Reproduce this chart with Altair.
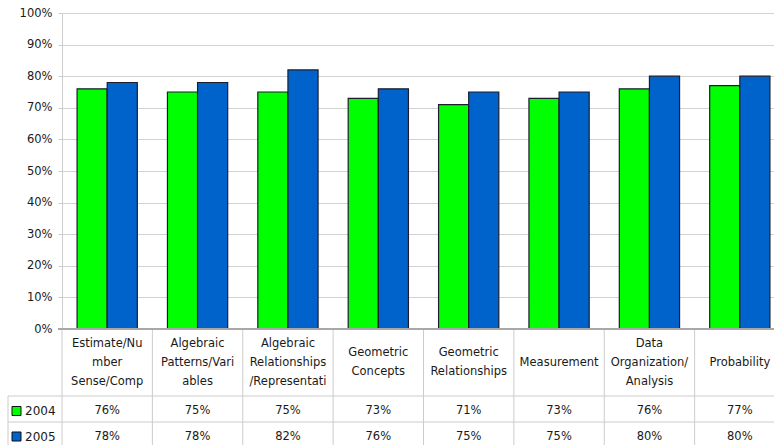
import altair as alt
import pandas as pd

# Strand names, wrapped the way they appear in the table header
categories = [
    "Estimate/Nu\nmber\nSense/Comp",
    "Algebraic\nPatterns/Vari\nables",
    "Algebraic\nRelationships\n/Representati",
    "Geometric\nConcepts",
    "Geometric\nRelationships",
    "Measurement",
    "Data\nOrganization/\nAnalysis",
    "Probability",
]
years = ["2004", "2005"]
score_2004 = [76, 75, 75, 73, 71, 73, 76, 77]
score_2005 = [78, 78, 82, 76, 75, 75, 80, 80]
year_colors = ["#00ff00", "#0063cc"]

FONT = "DejaVu Sans"
FONT_SIZE = 11.5
TEXT_COLOR = "#1a1a1a"
LINE_COLOR = "#cccccc"
LINE_HEIGHT = 19

# Table geometry below the plot (pixels from the 0% line)
HEADER_BOTTOM = 67
ROW1_BOTTOM = 93
TABLE_BOTTOM = 116
ROW_CENTERS = {"2004": 82, "2005": 107.5}

scores = {"2004": score_2004, "2005": score_2005}
bars_df = pd.DataFrame(
    [
        {"category": c, "year": y, "score": v / 100, "label": f"{v}%",
         "ty": ROW_CENTERS[y]}
        for y in years
        for c, v in zip(categories, scores[y])
    ]
)
cat_df = pd.DataFrame({"category": categories})
cat_df["top"] = 0
cat_df["bottom"] = TABLE_BOTTOM
# first line of a wrapped header sits so that the whole block is centred in the cell
cat_df["first_line"] = [
    HEADER_BOTTOM / 2 - (c.count("\n")) * LINE_HEIGHT / 2 for c in categories
]
year_df = pd.DataFrame({"year": years, "ty": [ROW_CENTERS[y] for y in years]})

x_scale = alt.Scale(domain=categories, range=[0, 723], paddingInner=0, paddingOuter=0)
table_y = alt.Scale(domain=[0, TABLE_BOTTOM], range=[316, 316 + TABLE_BOTTOM], nice=False, zero=False)
color_scale = alt.Scale(domain=years, range=year_colors)

bars = alt.Chart(bars_df).mark_bar(stroke="#1c1c2c", strokeWidth=1.2).encode(
    x=alt.X("category:N", scale=x_scale, axis=None),
    xOffset=alt.XOffset("year:N", scale=alt.Scale(domain=years, paddingInner=0, paddingOuter=0.5)),
    y=alt.Y(
        "score:Q",
        scale=alt.Scale(domain=[0, 1], nice=False),
        axis=alt.Axis(
            values=[i / 10 for i in range(11)],
            format=".0%",
            title=None,
            labelFont=FONT,
            labelFontSize=FONT_SIZE,
            labelColor=TEXT_COLOR,
            labelPadding=6,
            tickSize=4,
            tickColor=LINE_COLOR,
            gridColor="#d2d2d2",
            domainColor=LINE_COLOR,
        ),
    ),
    color=alt.Color("year:N", scale=color_scale, legend=None),
)

# Horizontal table lines
h_lines_df = pd.DataFrame({"ty": [HEADER_BOTTOM, ROW1_BOTTOM]})
h_lines = alt.Chart(h_lines_df).mark_rule(color=LINE_COLOR, strokeWidth=1).encode(
    x=alt.value(-54),
    x2=alt.value(712),
    y=alt.Y("ty:Q", scale=table_y, axis=None),
)

zero_line = alt.Chart(pd.DataFrame({"ty": [0]})).mark_rule(color="#a8a8a8", strokeWidth=2).encode(
    x=alt.value(-4),
    x2=alt.value(712),
    y=alt.Y("ty:Q", scale=table_y, axis=None),
)

left_border = alt.Chart(pd.DataFrame({"ty": [HEADER_BOTTOM], "ty2": [TABLE_BOTTOM]})).mark_rule(
    color=LINE_COLOR, strokeWidth=1
).encode(
    x=alt.value(-54),
    y=alt.Y("ty:Q", scale=table_y, axis=None),
    y2="ty2:Q",
)

# Column separators at each category's left edge
v_lines = alt.Chart(cat_df).mark_rule(color=LINE_COLOR, strokeWidth=1).encode(
    x=alt.X("category:N", scale=x_scale, axis=None, bandPosition=0),
    y=alt.Y("top:Q", scale=table_y, axis=None),
    y2="bottom:Q",
)

header = alt.Chart(cat_df).mark_text(
    font=FONT, fontSize=FONT_SIZE, color=TEXT_COLOR, lineBreak="\n", lineHeight=LINE_HEIGHT,
    baseline="middle", align="center",
).encode(
    x=alt.X("category:N", scale=x_scale, axis=None),
    y=alt.Y("first_line:Q", scale=table_y, axis=None),
    text="category:N",
)

values = alt.Chart(bars_df).mark_text(
    font=FONT, fontSize=FONT_SIZE, color=TEXT_COLOR, baseline="middle", align="center",
).encode(
    x=alt.X("category:N", scale=x_scale, axis=None),
    y=alt.Y("ty:Q", scale=table_y, axis=None),
    text="label:N",
)

swatches = alt.Chart(year_df).mark_point(
    shape="square", filled=True, size=81, stroke="#111111", strokeWidth=1, opacity=1,
).encode(
    x=alt.value(-45.5),
    y=alt.Y("ty:Q", scale=table_y, axis=None),
    fill=alt.Fill("year:N", scale=color_scale, legend=None),
)

year_labels = alt.Chart(year_df).mark_text(
    font=FONT, fontSize=FONT_SIZE + 0.5, color=TEXT_COLOR, baseline="middle", align="left",
).encode(
    x=alt.value(-37),
    y=alt.Y("ty:Q", scale=table_y, axis=None),
    text="year:N",
)

chart = (
    alt.layer(bars, h_lines, left_border, v_lines, zero_line, header, values, swatches, year_labels)
    .resolve_scale(y="independent")
    .properties(
        width=712,
        height=316,
        autosize=alt.AutoSizeParams(type="none"),
        padding={"left": 62, "top": 13, "right": 0, "bottom": 116},
        background="white",
    )
    .configure_view(stroke=None)
)

chart.save("out.html", embed_options={"renderer": "svg", "actions": False})
